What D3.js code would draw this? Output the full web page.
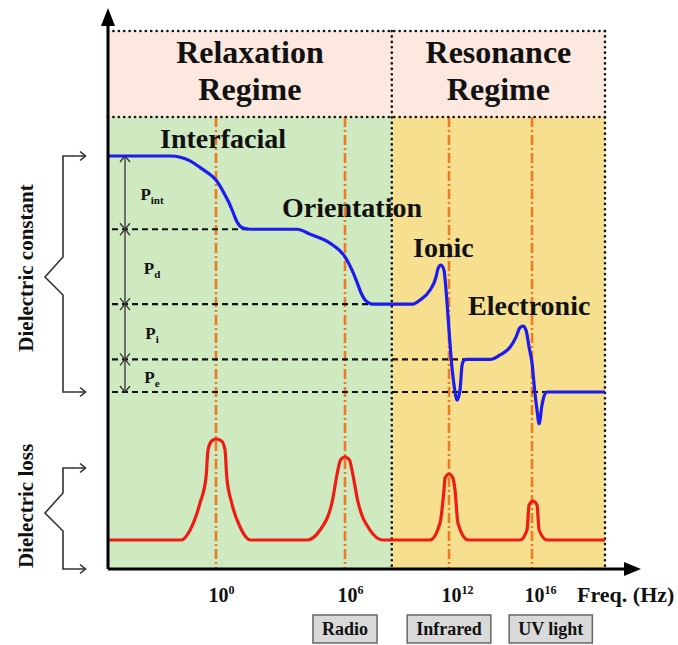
<!DOCTYPE html>
<html>
<head>
<meta charset="utf-8">
<script src="https://cdn.jsdelivr.net/npm/d3@7"></script>
<style>
  body { margin: 0; background: #fff; }
  svg { display: block; }
  text { font-family: "Liberation Serif", "Times New Roman", serif; font-weight: bold; fill: #111; }
</style>
</head>
<body>
<svg id="chart" width="678" height="645"></svg>
<script>
// Frequency is expressed as the decimal exponent n of 10^n Hz.
const tickExponents = [0, 6, 12, 16];
const regimeNames = [["Relaxation", "Regime"], ["Resonance", "Regime"]];
const regimeBounds = [-5, 8.7, 19.5];

// Dielectric constant plateaus (top to bottom) and the polarisation that separates them
const levelValues = [30, 21, 11.8, 5, 1];
const levelSubscripts = ["int", "d", "i", "e"];
const levelEnds = [1.6, 7.6, 12.8, 16.8];

const mechanismNames = ["Interfacial", "Orientation", "Ionic", "Electronic"];

const bandNames = ["Radio", "Infrared", "UV light"];
const bandCenters = [6, 12, 16.9];

// Real part of the permittivity: [exponent, value]
const epsCurve = [
  [-5, 30], [-2.1, 30], [-1.2, 29.4], [-0.74, 28.6], [-0.37, 27.9], [0, 27.05],
  [0.42, 25.2], [0.7, 23.7], [0.84, 22.75], [0.98, 21.9], [1.26, 21.15], [1.6, 21],
  [3.77, 21], [4.37, 20.4], [5.3, 19.3], [6, 17.6], [6.4, 16], [6.69, 14.5],
  [6.92, 13.2], [7.21, 12.2], [7.6, 11.8],
  [9.92, 11.8], [10.33, 12.3], [10.9, 13.5], [11.25, 15.1], [11.37, 16.2], [11.54, 16.6],
  [11.71, 16.0], [11.83, 13.5], [12, 8.6], [12.14, 4.1], [12.24, 1.9], [12.39, 0],
  [12.53, 1.25], [12.63, 4.3], [12.72, 4.9], [12.85, 5],
  [13.98, 5], [14.46, 5.55], [14.94, 6.5], [15.23, 7.75], [15.42, 8.9], [15.57, 9.1],
  [15.71, 8.6], [15.86, 6.5], [16, 4.6], [16.14, 0.9], [16.24, -1.2], [16.34, -2.9],
  [16.48, -0.6], [16.58, 0.5], [16.72, 1],
  [19.5, 1]
];

// Dielectric loss: [exponent, value]
const lossCurve = [
  [-5, 0], [-1.6, 0], [-1.2, 1.0], [-0.74, 3.7], [-0.46, 6.3], [-0.37, 9.0], [-0.2, 9.9],
  [0, 10.1], [0.26, 9.9], [0.42, 9.0], [0.5, 6.3], [0.73, 3.7], [1.12, 1.3], [1.6, 0],
  [4.23, 0], [4.84, 1.0], [5.4, 3.8], [5.67, 7.0], [5.79, 8.0], [6, 8.3],
  [6.26, 8.0], [6.4, 7.0], [6.75, 3.8], [7.44, 1.0], [8.19, 0],
  [10.9, 0], [11.48, 1.7], [11.71, 5.0], [11.77, 6.2], [12, 6.6],
  [12.19, 6.2], [12.29, 5.0], [12.43, 1.7], [12.92, 0],
  [15.42, 0], [15.76, 1.0], [15.86, 3.5], [16.05, 3.9], [16.24, 3.5], [16.34, 1.0], [16.72, 0],
  [19.5, 0]
];

const svg = d3.select("#chart");

const x = d3.scaleLinear()
  .domain([-5, 0, 6, 12, 16, 19.5])
  .range([108, 216, 345, 449, 532, 605]);
const yEps = d3.scaleLinear().domain([1, 30]).range([392, 156]);
const yLoss = d3.scaleLinear().domain([0, 10]).range([540, 440]);

const headTop = 31, plotTop = 117, plotBottom = 569;
const regimeFill = ["#cfe9c0", "#f6e08f"];
const headFill = "#fce8de";

// Header band and regime backgrounds
svg.append("rect")
  .attr("x", x(regimeBounds[0])).attr("y", headTop)
  .attr("width", x(regimeBounds[2]) - x(regimeBounds[0])).attr("height", plotTop - headTop)
  .attr("fill", headFill);

regimeNames.forEach((name, i) => {
  svg.append("rect")
    .attr("x", x(regimeBounds[i])).attr("y", plotTop)
    .attr("width", x(regimeBounds[i + 1]) - x(regimeBounds[i]))
    .attr("height", plotBottom - plotTop)
    .attr("fill", regimeFill[i]);
  const cx = (x(regimeBounds[i]) + x(regimeBounds[i + 1])) / 2;
  name.forEach((line, j) => {
    svg.append("text")
      .attr("x", cx).attr("y", 63 + j * 37)
      .attr("text-anchor", "middle")
      .style("font-size", "32px")
      .text(line);
  });
});

// Characteristic frequencies
svg.append("g").selectAll("line")
  .data(tickExponents)
  .join("line")
  .attr("x1", d => x(d)).attr("x2", d => x(d))
  .attr("y1", plotTop).attr("y2", plotBottom)
  .attr("stroke", "#f07a22").attr("stroke-width", 2.6)
  .attr("stroke-dasharray", "10,3,2,3");

// Plateau guides
svg.append("g").selectAll("line")
  .data(levelEnds)
  .join("line")
  .attr("x1", 112).attr("x2", d => x(d))
  .attr("y1", (d, i) => yEps(levelValues[i + 1]))
  .attr("y2", (d, i) => yEps(levelValues[i + 1]))
  .attr("stroke", "#111").attr("stroke-width", 2.2)
  .attr("stroke-dasharray", "6,4");

// Regime frame (dotted)
const dotted = (x1, y1, x2, y2) => svg.append("line")
  .attr("x1", x1).attr("y1", y1).attr("x2", x2).attr("y2", y2)
  .attr("stroke", "#111").attr("stroke-width", 2.6)
  .attr("stroke-linecap", "round").attr("stroke-dasharray", "0.1,5.3");
dotted(x(regimeBounds[0]), headTop, x(regimeBounds[2]), headTop);
dotted(x(regimeBounds[0]), plotTop, x(regimeBounds[2]), plotTop);
dotted(x(regimeBounds[1]), headTop, x(regimeBounds[1]), plotBottom);
dotted(x(regimeBounds[2]), headTop, x(regimeBounds[2]), plotBottom);

// Polarisation span arrows
const ax = 125;
const arrowGroup = svg.append("g").attr("stroke", "#333").attr("stroke-width", 1.3).attr("fill", "none");
arrowGroup.append("line")
  .attr("x1", ax).attr("x2", ax)
  .attr("y1", yEps(levelValues[0])).attr("y2", yEps(levelValues[levelValues.length - 1]));
levelValues.forEach((v, i) => {
  const yy = yEps(v);
  if (i > 0) arrowGroup.append("path").attr("d", `M${ax - 5},${yy - 6}L${ax},${yy}L${ax + 5},${yy - 6}`);
  if (i < levelValues.length - 1) arrowGroup.append("path").attr("d", `M${ax - 5},${yy + 6}L${ax},${yy}L${ax + 5},${yy + 6}`);
});

levelSubscripts.forEach((s, i) => {
  const mid = (yEps(levelValues[i]) + yEps(levelValues[i + 1])) / 2;
  const t = svg.append("text")
    .attr("x", 152).attr("y", mid + 7)
    .attr("text-anchor", "middle")
    .style("font-size", "17px");
  t.append("tspan").text("P");
  t.append("tspan").attr("dy", 4).style("font-size", "11px").text(s);
});

// Curves
const line = d3.line().curve(d3.curveMonotoneX);
svg.append("path")
  .attr("d", line.x(d => x(d[0])).y(d => yEps(d[1]))(epsCurve))
  .attr("fill", "none").attr("stroke", "#1c1cf0").attr("stroke-width", 3.2)
  .attr("stroke-linejoin", "round");
svg.append("path")
  .attr("d", line.x(d => x(d[0])).y(d => yLoss(d[1]))(lossCurve))
  .attr("fill", "none").attr("stroke", "#ee1c12").attr("stroke-width", 3.2)
  .attr("stroke-linejoin", "round");

// Mechanism labels
const mechPos = [[160, 148], [282, 217], [413, 257], [468, 315]];
mechanismNames.forEach((n, i) => {
  svg.append("text")
    .attr("x", mechPos[i][0]).attr("y", mechPos[i][1])
    .style("font-size", "28px")
    .text(n);
});

// Axes
svg.append("line")
  .attr("x1", 108).attr("y1", plotBottom).attr("x2", 108).attr("y2", 20)
  .attr("stroke", "#000").attr("stroke-width", 3);
svg.append("path").attr("d", "M108,8L101,26L115,26Z").attr("fill", "#000");
svg.append("line")
  .attr("x1", 108).attr("y1", plotBottom).attr("x2", 628).attr("y2", plotBottom)
  .attr("stroke", "#000").attr("stroke-width", 3);
svg.append("path").attr("d", `M641,${plotBottom}L624,${plotBottom - 7}L624,${plotBottom + 7}Z`).attr("fill", "#000");

const xAxis = svg.append("g")
  .attr("transform", `translate(0,${plotBottom})`)
  .call(d3.axisBottom(x).tickValues(tickExponents).tickSize(0).tickFormat(""));
xAxis.select(".domain").remove();
xAxis.attr("font-family", null).attr("font-size", null);
xAxis.selectAll(".tick text")
  .attr("x", -8).attr("y", 33).attr("dy", null)
  .attr("text-anchor", "start")
  .style("font-size", "20px")
  .each(function (d) {
    const t = d3.select(this);
    t.text(null);
    t.append("tspan").text("10");
    t.append("tspan").attr("dy", -8).style("font-size", "12px").text(d);
  });

svg.append("text")
  .attr("x", 577).attr("y", 602)
  .style("font-size", "22px")
  .text("Freq. (Hz)");

// Spectral bands
bandNames.forEach((b, i) => {
  const g = svg.append("g");
  const t = g.append("text")
    .attr("x", x(bandCenters[i])).attr("y", 635)
    .attr("text-anchor", "middle")
    .style("font-size", "18px")
    .text(b);
  const w = t.node().getComputedTextLength() + 18;
  g.insert("rect", "text")
    .attr("x", x(bandCenters[i]) - w / 2).attr("y", 615)
    .attr("width", w).attr("height", 28)
    .attr("fill", "#d9d9d9").attr("stroke", "#666").attr("stroke-width", 1.5);
});

// Left braces with axis titles
const brace = svg.append("g").attr("stroke", "#333").attr("stroke-width", 1.6).attr("fill", "none");
function drawBrace(top, bottom, tipY) {
  brace.append("path").attr("d",
    `M85,${top}H63V${tipY - 20}L45,${tipY}L63,${tipY + 18}V${bottom}H85`);
  [top, bottom].forEach(yy => brace.append("path").attr("d", `M80,${yy - 4.5}L85.5,${yy}L80,${yy + 4.5}`));
}
drawBrace(yEps(levelValues[0]), yEps(levelValues[4]), 277);
drawBrace(468, plotBottom, 513);

[["Dielectric constant", 268], ["Dielectric loss", 506]].forEach(([label, cy]) => {
  svg.append("text")
    .attr("transform", `translate(33,${cy}) rotate(-90)`)
    .attr("text-anchor", "middle")
    .style("font-size", "21px")
    .text(label);
});
</script>
</body>
</html>
